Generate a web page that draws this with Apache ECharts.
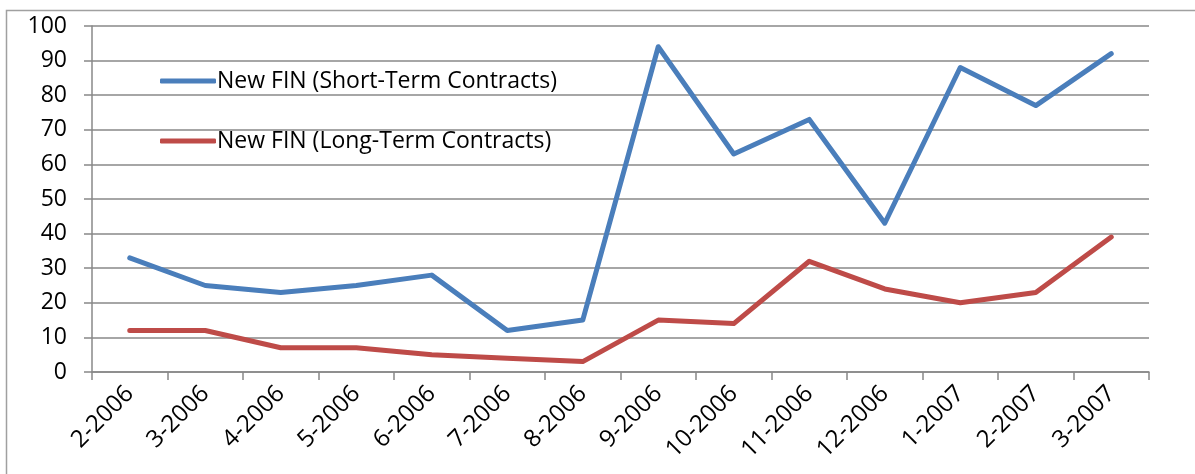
<!DOCTYPE html>
<html>
<head>
  <meta charset="UTF-8">
  <title>New FIN</title>
  <script src="https://cdn.jsdelivr.net/npm/echarts@6/dist/echarts.min.js"></script>
</head>
<body style="margin: 0; background: #fff">
<div id="container" style="width: 1195px; height: 474px"></div>
<script type="text/javascript">
  var months = ['2-2006', '3-2006', '4-2006', '5-2006', '6-2006', '7-2006', '8-2006',
    '9-2006', '10-2006', '11-2006', '12-2006', '1-2007', '2-2007', '3-2007'];
  var shortTerm = [33, 25, 23, 25, 28, 12, 15, 94, 63, 73, 43, 88, 77, 92];
  var longTerm = [12, 12, 7, 7, 5, 4, 3, 15, 14, 32, 24, 20, 23, 39];

  var font = '"Open Sans", Lato, sans-serif';
  var chart = echarts.init(document.getElementById('container'), null, { renderer: 'canvas' });

  var option = {
    animation: false,
    graphic: [{
      type: 'rect',
      shape: { x: 6.5, y: 10.5, width: 1200, height: 480 },
      style: { fill: 'none', stroke: '#a0a0a0', lineWidth: 1.5 },
      silent: true
    }],
    grid: { left: 92, right: 46, top: 26, bottom: 102 },
    legend: {
      orient: 'vertical',
      left: 155,
      top: 64,
      itemGap: 36,
      itemWidth: 56,
      itemHeight: 5,
      icon: 'roundRect',
      textStyle: { fontFamily: font, fontSize: 23, color: '#000', lineHeight: 24, padding: [0, 0, 0, -4] },
      data: ['New FIN (Short-Term Contracts)', 'New FIN (Long-Term Contracts)']
    },
    xAxis: {
      type: 'category',
      data: months,
      axisLine: { lineStyle: { color: '#888', width: 1.5 } },
      axisTick: { show: true, length: 8, lineStyle: { color: '#888', width: 1.5 } },
      axisLabel: { rotate: 45, margin: 18, fontFamily: font, fontSize: 24, color: '#000', interval: 0 }
    },
    yAxis: {
      type: 'value',
      min: 0,
      max: 100,
      interval: 10,
      axisLine: { show: true, lineStyle: { color: '#888', width: 1.5 } },
      axisTick: { show: true, length: 8, lineStyle: { color: '#888', width: 1.5 } },
      axisLabel: { margin: 25, fontFamily: font, fontSize: 23, color: '#000' },
      splitLine: { lineStyle: { color: '#888', width: 1.5 } }
    },
    series: [
      {
        name: 'New FIN (Short-Term Contracts)',
        type: 'line',
        data: shortTerm,
        showSymbol: false,
        color: '#4a7ebb',
        lineStyle: { width: 5, cap: 'round', join: 'round' }
      },
      {
        name: 'New FIN (Long-Term Contracts)',
        type: 'line',
        data: longTerm,
        showSymbol: false,
        color: '#be4b48',
        lineStyle: { width: 5, cap: 'round', join: 'round' }
      }
    ]
  };

  chart.setOption(option);
</script>
</body>
</html>
